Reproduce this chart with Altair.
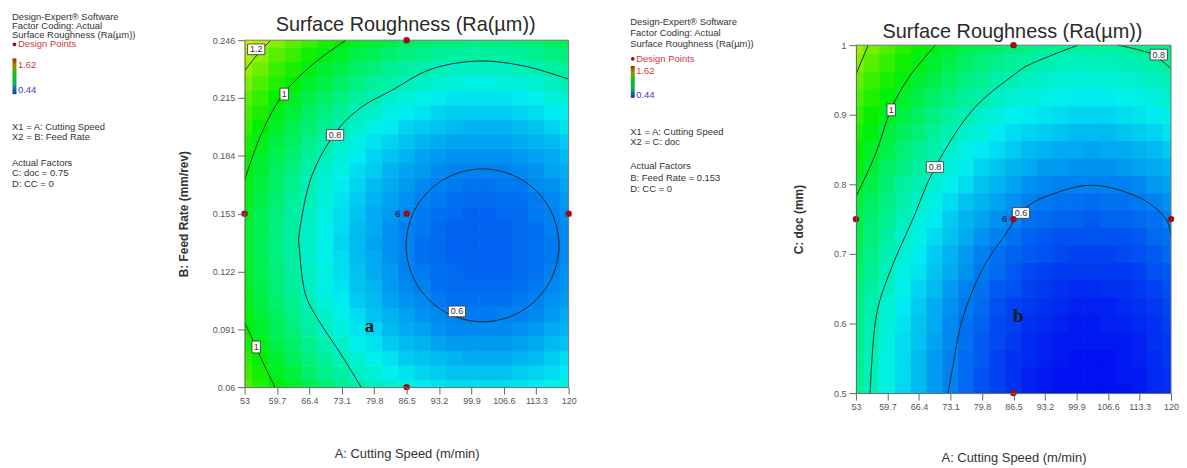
import altair as alt
import pandas as pd

FONT = "Liberation Sans"

# ---------------- grid coordinates ----------------
speed_grid = [53.0, 56.35, 59.7, 63.05, 66.4, 69.75, 73.1, 76.45, 79.8, 83.15, 86.5,
              89.85, 93.2, 96.55, 99.9, 103.25, 106.6, 109.95, 113.3, 116.65, 120.0]
feed_grid = [0.06, 0.06775, 0.0755, 0.08325, 0.091, 0.09875, 0.1065, 0.11425, 0.122,
             0.12975, 0.1375, 0.14525, 0.153, 0.16075, 0.1685, 0.17625, 0.184, 0.19175,
             0.1995, 0.20725, 0.215, 0.22275, 0.2305, 0.23825, 0.246]
doc_grid = [0.5, 0.525, 0.55, 0.575, 0.6, 0.625, 0.65, 0.675, 0.7, 0.725, 0.75,
            0.775, 0.8, 0.825, 0.85, 0.875, 0.9, 0.925, 0.95, 0.975, 1.0]

# Ra (x 0.01 um), rows = feed_grid, columns = speed_grid
ra_feed_rows = [
    [113, 107, 102, 98, 93, 89, 85, 82, 79, 77, 75, 73, 72, 71, 71, 71, 71, 72, 73, 74, 76],
    [110, 105, 99, 95, 90, 86, 83, 79, 77, 74, 72, 70, 69, 68, 68, 68, 68, 69, 70, 71, 73],
    [108, 102, 97, 92, 88, 84, 80, 77, 74, 72, 69, 68, 67, 66, 65, 65, 65, 66, 67, 69, 71],
    [105, 100, 94, 90, 85, 81, 78, 74, 72, 69, 67, 66, 64, 63, 63, 63, 63, 64, 65, 67, 68],
    [103, 98, 92, 88, 83, 79, 76, 72, 70, 67, 65, 64, 62, 61, 61, 61, 61, 62, 63, 65, 66],
    [102, 96, 91, 86, 82, 78, 74, 71, 68, 66, 64, 62, 61, 60, 59, 59, 60, 60, 61, 63, 65],
    [100, 95, 89, 85, 80, 76, 73, 69, 67, 64, 62, 61, 59, 58, 58, 58, 58, 59, 60, 62, 63],
    [99, 94, 88, 84, 79, 75, 72, 68, 66, 63, 61, 60, 58, 57, 57, 57, 57, 58, 59, 61, 62],
    [99, 93, 88, 83, 79, 75, 71, 68, 65, 63, 60, 59, 58, 57, 56, 56, 56, 57, 58, 60, 62],
    [98, 93, 87, 83, 78, 74, 71, 67, 65, 62, 60, 58, 57, 56, 56, 56, 56, 57, 58, 59, 61],
    [98, 92, 87, 83, 78, 74, 70, 67, 64, 62, 60, 58, 57, 56, 56, 56, 56, 57, 58, 59, 61],
    [98, 93, 87, 83, 78, 74, 71, 67, 65, 62, 60, 59, 57, 56, 56, 56, 56, 57, 58, 60, 61],
    [99, 93, 88, 83, 79, 75, 71, 68, 65, 63, 61, 59, 58, 57, 56, 56, 57, 57, 59, 60, 62],
    [100, 94, 89, 84, 80, 76, 72, 69, 66, 64, 62, 60, 59, 58, 57, 57, 58, 58, 59, 61, 63],
    [101, 95, 90, 85, 81, 77, 73, 70, 67, 65, 63, 61, 60, 59, 58, 58, 59, 59, 61, 62, 64],
    [102, 97, 91, 87, 82, 78, 75, 71, 69, 66, 64, 63, 61, 60, 60, 60, 60, 61, 62, 64, 65],
    [104, 98, 93, 89, 84, 80, 76, 73, 70, 68, 66, 64, 63, 62, 62, 62, 62, 63, 64, 65, 67],
    [106, 100, 95, 91, 86, 82, 78, 75, 72, 70, 68, 66, 65, 64, 64, 64, 64, 65, 66, 67, 69],
    [109, 103, 98, 93, 89, 85, 81, 78, 75, 73, 70, 69, 68, 67, 66, 66, 66, 67, 68, 70, 72],
    [111, 106, 100, 96, 91, 87, 84, 80, 78, 75, 73, 72, 70, 69, 69, 69, 69, 70, 71, 73, 74],
    [114, 109, 103, 99, 94, 90, 87, 83, 81, 78, 76, 75, 73, 72, 72, 72, 72, 73, 74, 76, 77],
    [118, 112, 107, 102, 98, 94, 90, 87, 84, 82, 80, 78, 77, 76, 75, 75, 76, 76, 77, 79, 81],
    [121, 116, 110, 106, 101, 97, 94, 90, 88, 85, 83, 82, 80, 79, 79, 79, 79, 80, 81, 83, 84],
    [125, 120, 114, 110, 105, 101, 98, 94, 92, 89, 87, 86, 84, 83, 83, 83, 83, 84, 85, 87, 88],
    [130, 124, 119, 114, 110, 106, 102, 99, 96, 94, 91, 90, 89, 88, 87, 87, 87, 88, 89, 91, 93],
]

# Ra (x 0.01 um), rows = doc_grid, columns = speed_grid
ra_doc_rows = [
    [85, 80, 75, 70, 67, 63, 60, 57, 54, 52, 50, 48, 47, 46, 46, 46, 46, 46, 47, 49, 50],
    [85, 80, 75, 71, 67, 63, 60, 57, 54, 52, 50, 48, 47, 46, 46, 46, 46, 47, 47, 49, 50],
    [85, 80, 75, 71, 67, 63, 60, 57, 55, 52, 50, 49, 48, 47, 46, 46, 46, 47, 48, 49, 51],
    [86, 81, 76, 71, 68, 64, 61, 58, 55, 53, 51, 49, 48, 47, 47, 47, 47, 47, 48, 50, 51],
    [86, 81, 77, 72, 68, 65, 61, 58, 56, 53, 52, 50, 49, 48, 47, 47, 48, 48, 49, 50, 52],
    [87, 82, 77, 73, 69, 65, 62, 59, 57, 54, 52, 51, 50, 49, 48, 48, 48, 49, 50, 51, 53],
    [88, 83, 79, 74, 70, 67, 63, 60, 58, 55, 54, 52, 51, 50, 49, 49, 50, 50, 51, 52, 54],
    [90, 85, 80, 75, 72, 68, 65, 62, 59, 57, 55, 53, 52, 51, 51, 51, 51, 51, 52, 54, 55],
    [91, 86, 81, 77, 73, 69, 66, 63, 60, 58, 56, 55, 54, 53, 52, 52, 52, 53, 54, 55, 57],
    [93, 88, 83, 78, 75, 71, 68, 65, 62, 60, 58, 56, 55, 54, 54, 54, 54, 54, 55, 57, 58],
    [94, 89, 85, 80, 76, 73, 69, 66, 64, 62, 60, 58, 57, 56, 56, 55, 56, 56, 57, 58, 60],
    [96, 91, 87, 82, 78, 75, 71, 68, 66, 64, 62, 60, 59, 58, 58, 57, 58, 58, 59, 60, 62],
    [99, 94, 89, 84, 81, 77, 74, 71, 68, 66, 64, 62, 61, 60, 60, 60, 60, 60, 61, 63, 64],
    [101, 96, 91, 87, 83, 79, 76, 73, 70, 68, 66, 65, 63, 63, 62, 62, 62, 63, 64, 65, 66],
    [103, 98, 94, 89, 85, 82, 78, 75, 73, 71, 69, 67, 66, 65, 65, 64, 65, 65, 66, 67, 69],
    [106, 101, 96, 92, 88, 84, 81, 78, 76, 73, 71, 70, 69, 68, 67, 67, 67, 68, 69, 70, 72],
    [109, 104, 99, 95, 91, 87, 84, 81, 78, 76, 74, 73, 72, 71, 70, 70, 70, 71, 72, 73, 75],
    [112, 107, 102, 98, 94, 90, 87, 84, 82, 79, 77, 76, 75, 74, 73, 73, 73, 74, 75, 76, 78],
    [115, 110, 106, 101, 97, 94, 90, 87, 85, 82, 81, 79, 78, 77, 76, 76, 77, 77, 78, 79, 81],
    [119, 114, 109, 105, 101, 97, 94, 91, 88, 86, 84, 83, 81, 80, 80, 80, 80, 81, 82, 83, 84],
    [122, 117, 113, 108, 104, 101, 97, 94, 92, 90, 88, 86, 85, 84, 84, 83, 84, 84, 85, 86, 88],
]

# ---------------- axis ticks ----------------
speed_ticks = [53, 59.7, 66.4, 73.1, 79.8, 86.5, 93.2, 99.9, 106.6, 113.3, 120]
feed_ticks = [0.06, 0.091, 0.122, 0.153, 0.184, 0.215, 0.246]
doc_ticks = [0.5, 0.6, 0.7, 0.8, 0.9, 1]

# ---------------- contour lines ----------------
a_c06_x = [118.0, 115.9, 110.1, 102.2, 94.3, 88.5, 86.4, 88.5, 94.3, 102.2, 110.1, 115.9]
a_c06_y = [0.136, 0.1565, 0.1715, 0.177, 0.1715, 0.1565, 0.136, 0.1155, 0.1005, 0.095, 0.1005, 0.1155]
a_c08_x = [120.0, 110.7, 101.1, 91.5, 83.3, 77.0, 71.6, 66.8, 64.4, 64.4, 65.5, 68.2, 72.7, 77.1]
a_c08_y = [0.2251, 0.2322, 0.2348, 0.2304, 0.2189, 0.2098, 0.1958, 0.1726, 0.1442, 0.132, 0.1105, 0.0962, 0.0785, 0.06]
a_c10u_x = [74.0, 67.3, 61.0, 56.5, 53.0]
a_c10u_y = [0.246, 0.2335, 0.2171, 0.196, 0.1709]
a_c10l_x = [53.0, 55.3, 57.2, 59.3]
a_c10l_y = [0.0945, 0.082, 0.071, 0.06]
a_c12_x = [53.0, 55.4, 58.4]
a_c12_y = [0.2295, 0.2375, 0.246]

b_c06_x = [72.6, 73.5, 75.6, 79.8, 85.4, 87.9, 93.2, 103.1, 112.9, 118.6, 120.0]
b_c06_y = [0.5, 0.534, 0.6055, 0.677, 0.734, 0.7595, 0.782, 0.7987, 0.782, 0.753, 0.727]
b_c08l_x = [56.0, 57.2, 60.1, 65.0, 69.9, 77.7, 86.8, 91.1, 100.2]
b_c08l_y = [0.5, 0.6055, 0.672, 0.7485, 0.825, 0.906, 0.9585, 0.9757, 1.0]
b_c08r_x = [108.7, 115.7, 120.0]
b_c08r_y = [1.0, 0.9876, 0.966]
b_c10_x = [53.0, 57.2, 60.4, 64.3, 69.9]
b_c10_y = [0.782, 0.844, 0.907, 0.954, 1.0]
b_c12_x = [53.0, 55.6]
b_c12_y = [0.958, 1.0]

# contour labels
a_lab_text = ["1.2", "1", "0.8", "0.6", "1"]
a_lab_x = [55.4, 61.2, 71.7, 96.9, 55.4]
a_lab_y = [0.2411, 0.2171, 0.1952, 0.1006, 0.0815]
b_lab_text = ["1", "0.8", "0.8", "0.6"]
b_lab_x = [60.5, 69.8, 117.4, 88.1]
b_lab_y = [0.907, 0.8249, 0.9864, 0.7588]

# design points
design_speed = [53, 86.5, 86.5, 120, 86.5]
design_feed = [0.153, 0.246, 0.153, 0.153, 0.06]
design_doc = [0.75, 1.0, 0.75, 0.75, 0.5]
center_count = "6"

# colour map of Ra
ra_stops = [0.44, 0.735, 1.03, 1.325, 1.62]
ra_colors = ["#0000f2", "#00f0f0", "#00f000", "#f0f000", "#f00000"]
cscale = alt.Scale(domain=ra_stops, range=ra_colors, interpolate="rgb")

TITLE = "Surface Roughness (Ra(\u00b5m))"


def grid_frame(xs, ys, rows):
    hx = (xs[1] - xs[0]) * 0.52
    hy = (ys[1] - ys[0]) * 0.52
    recs = []
    for j, row in enumerate(rows):
        for k, v in enumerate(row):
            recs.append({"x0": max(xs[k] - hx, xs[0]), "x1": min(xs[k] + hx, xs[-1]),
                         "y0": max(ys[j] - hy, ys[0]), "y1": min(ys[j] + hy, ys[-1]),
                         "ra": v / 100})
    return pd.DataFrame(recs)


def curve_frame(curves):
    recs = []
    for name, xs, ys in curves:
        for i, (x, y) in enumerate(zip(xs, ys)):
            recs.append({"seg": name, "i": i, "x": x, "y": y})
    return pd.DataFrame(recs)


def one(**kw):
    return pd.DataFrame({k: [v] for k, v in kw.items()})


WIDE_BOX = "M-1,-0.62L1,-0.62L1,0.62L-1,0.62Z"
NARROW_BOX = "M-1,-1.4L1,-1.4L1,1.4L-1,1.4Z"


def panel(grid, ydomain, yticks, ytitle, ytitle_pad, xtitle_pad, open_curves, closed_curves,
          lab_text, lab_x, lab_y, dys, letter, letter_xy, info, tdx, w, top, h, title_y):
    xscale = alt.Scale(domain=[53, 120], nice=False, zero=False)
    yscale = alt.Scale(domain=ydomain, nice=False, zero=False, range=[top + h, top])
    xaxis = alt.Axis(values=speed_ticks, labelExpr="'' + datum.value", tickSize=7,
                     labelFontSize=9, labelColor="#555", labelFont=FONT, labelPadding=3,
                     labelFlush=False, labelOverlap=False, titleFont=FONT, titleFontSize=13,
                     titleFontWeight="normal", titleColor="#333", titlePadding=xtitle_pad,
                     domainColor="#666", tickColor="#666", grid=False, zindex=1)
    yaxis = alt.Axis(values=yticks, labelExpr="'' + datum.value", tickSize=7,
                     labelFontSize=9, labelColor="#555", labelFont=FONT, labelPadding=3,
                     labelFlush=False, labelOverlap=False, titleFont=FONT, titleFontSize=12,
                     titleFontWeight="bold", titleColor="#333", titlePadding=ytitle_pad,
                     domainColor="#666", tickColor="#666", grid=False, zindex=1)

    def X(f):
        return alt.X(f, type="quantitative", scale=xscale, axis=xaxis, title="A: Cutting Speed (m/min)")

    def Y(f):
        return alt.Y(f, type="quantitative", scale=yscale, axis=yaxis, title=ytitle)

    heat = alt.Chart(grid).mark_rect(strokeWidth=0).encode(
        x=X("x0"), x2="x1", y=Y("y0"), y2="y1",
        color=alt.Color("ra:Q", scale=cscale, legend=None))

    open_lines = alt.Chart(curve_frame(open_curves)).mark_line(
        clip=True, color="#1c2b2b", strokeWidth=1, interpolate="cardinal").encode(
        x=X("x"), y=Y("y"), detail="seg:N", order="i:Q")
    layers = [heat, open_lines]
    if closed_curves:
        layers.append(alt.Chart(curve_frame(closed_curves)).mark_line(
            clip=True, color="#1c2b2b", strokeWidth=1, interpolate="cardinal-closed").encode(
            x=X("x"), y=Y("y"), detail="seg:N", order="i:Q"))

    # plot frame (top and right edges; left and bottom are the axis lines)
    frame_top = alt.Chart(one(a=0)).mark_rule(color="#777", strokeWidth=1).encode(
        x=alt.value(0), x2=alt.value(w), y=alt.value(top))
    frame_right = alt.Chart(one(a=0)).mark_rule(color="#777", strokeWidth=1).encode(
        x=alt.value(w), y=alt.value(top), y2=alt.value(top + h))

    labs = pd.DataFrame({"t": lab_text, "x": lab_x, "y": lab_y})
    labs["wide"] = labs["t"].str.len() > 1
    wide_boxes = alt.Chart(labs[labs["wide"]]).mark_point(
        shape=WIDE_BOX, size=300, filled=True, fill="white", stroke="#333",
        strokeWidth=0.8, opacity=1).encode(x=X("x"), y=Y("y"))
    narrow_boxes = alt.Chart(labs[~labs["wide"]]).mark_point(
        shape=NARROW_BOX, size=72, filled=True, fill="white", stroke="#333",
        strokeWidth=0.8, opacity=1).encode(x=X("x"), y=Y("y"))
    lab_txt = alt.Chart(labs).mark_text(font=FONT, fontSize=9, color="#333").encode(
        x=X("x"), y=Y("y"), text="t:N")

    pts = pd.DataFrame({"x": design_speed, "y": dys})
    dots = alt.Chart(pts).mark_circle(size=42, color="#9b0c1c", opacity=1).encode(
        x=X("x"), y=Y("y"))
    cnt = alt.Chart(one(x=86.5, y=dys[2], t=center_count)).mark_text(
        font=FONT, fontSize=10, color="#26306e", dx=-9, fontWeight="bold").encode(
        x=X("x"), y=Y("y"), text="t:N")
    let = alt.Chart(one(x=letter_xy[0], y=letter_xy[1], t=letter)).mark_text(
        font="Liberation Serif", fontSize=19, fontWeight="bold", color="#151515").encode(
        x=X("x"), y=Y("y"), text="t:N")

    # information block at the left of the panel
    def txt(s, x, y, color="#333", lh=10.2, size=9.5):
        return alt.Chart(one(t=s)).mark_text(
            align="left", baseline="top", lineBreak="\n", lineHeight=lh, font=FONT,
            fontSize=size, color=color).encode(x=alt.value(x), y=alt.value(y), text="t:N")

    grad = alt.LinearGradient(gradient="linear", x1=0, y1=0, x2=0, y2=1, stops=[
        alt.GradientStop(color="#a02a10", offset=0),
        alt.GradientStop(color="#a09000", offset=0.2),
        alt.GradientStop(color="#10c010", offset=0.42),
        alt.GradientStop(color="#10b060", offset=0.7),
        alt.GradientStop(color="#2030c0", offset=1)])
    bar = alt.Chart(one(a=0)).mark_rect(color=grad).encode(
        x=alt.value(tdx + 0.5), x2=alt.value(tdx + 4.5), y=alt.value(info["bar"][0]),
        y2=alt.value(info["bar"][1]))
    bullet = alt.Chart(one(a=0)).mark_circle(size=14, color="#9b0c1c", opacity=1).encode(
        x=alt.value(tdx + 2.5), y=alt.value(info["dp"] + 5))
    title = alt.Chart(one(t=TITLE)).mark_text(
        align="center", baseline="middle", font=FONT, fontSize=20, color="#2a2a2a").encode(
        x=alt.value(w / 2 - 1), y=alt.value(title_y), text="t:N")

    layers += [frame_top, frame_right, wide_boxes, narrow_boxes, lab_txt, dots, cnt, let,
               title,
               txt("\n".join(info["head"]), tdx, info["head_y"], lh=info["head_lh"]),
               bullet,
               txt("Design Points", tdx + 6, info["dp"], color="#d23a3a"),
               bar,
               txt("1.62", tdx + 6, info["hi"], color="#d23a3a"),
               txt("0.44", tdx + 6, info["lo"], color="#3a3ad2"),
               txt("\n".join(info["x"]), tdx, info["x_y"], lh=10.7),
               txt("\n".join(info["act"]), tdx, info["act_y"], lh=info["act_lh"])]
    return alt.layer(*layers).properties(width=w, height=top + h)


head = ["Design-Expert\u00ae Software", "Factor Coding: Actual", TITLE]

# positions of the information blocks, relative to the top of panel a's plot
info_a = {"head": head, "head_y": -28.5, "head_lh": 9.4, "dp": -0.7, "bar": [18.3, 54.3],
          "hi": 20.3, "lo": 45.3,
          "x": ["X1 = A: Cutting Speed", "X2 = B: Feed Rate"], "x_y": 82,
          "act": ["Actual Factors", "C: doc = 0.75", "D: CC = 0"], "act_y": 118.3,
          "act_lh": 10.5}
info_b = {"head": head, "head_y": -23.3, "head_lh": 11.2, "dp": 13.7, "bar": [26, 58],
          "hi": 26, "lo": 50.3,
          "x": ["X1 = A: Cutting Speed", "X2 = C: doc"], "x_y": 87,
          "act": ["Actual Factors", "B: Feed Rate = 0.153", "D: CC = 0"], "act_y": 122,
          "act_lh": 11.5}

pa = panel(grid_frame(speed_grid, feed_grid, ra_feed_rows), [0.06, 0.246], feed_ticks,
           "B: Feed Rate (mm/rev)", 22, 42,
           [("c08", a_c08_x, a_c08_y), ("c10u", a_c10u_x, a_c10u_y),
            ("c10l", a_c10l_x, a_c10l_y), ("c12", a_c12_x, a_c12_y)],
           [("c06", a_c06_x, a_c06_y)],
           a_lab_text, a_lab_x, a_lab_y, design_feed, "a", (78.8, 0.093), info_a, -234,
           326, 0, 349, -15)
pb = panel(grid_frame(speed_grid, doc_grid, ra_doc_rows), [0.5, 1.0], doc_ticks,
           "C: doc (mm)", 28, 40,
           [("c06", b_c06_x, b_c06_y), ("c08l", b_c08l_x, b_c08l_y),
            ("c08r", b_c08r_x, b_c08r_y), ("c10", b_c10_x, b_c10_y), ("c12", b_c12_x, b_c12_y)],
           [],
           b_lab_text, b_lab_x, b_lab_y, design_doc, "b", (87.5, 0.61), info_b, -227,
           317, 5, 350, -8)

chart = alt.hconcat(pa, pb, spacing=54).properties(
    padding={"left": 4, "top": 2, "right": 0, "bottom": 0},
    background="white").configure_view(stroke=None)

chart.save("out.html", embed_options={"renderer": "svg", "actions": False})
